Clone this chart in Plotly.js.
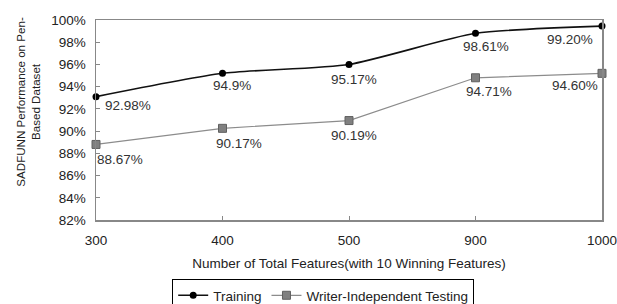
<!DOCTYPE html>
<html><head><meta charset="utf-8">
<script src="https://cdn.plot.ly/plotly-3.0.1.min.js"></script>
<style>html,body{margin:0;padding:0;background:#fff;}#chart{width:617px;height:304px;}</style>
</head><body><div id="chart"></div>
<script>
// Feature counts (category axis)
const categories = ['300', '400', '500', '900', '1000'];
// Point heights as drawn in the picture, and the printed data labels
const trainingValues = [93.1, 95.2, 96.0, 98.8, 99.45];
const trainingLabels = ['92.98%', '94.9%', '95.17%', '98.61%', '99.20%'];
const testingValues = [88.8, 90.25, 90.95, 94.8, 95.2];
const testingLabels = ['88.67%', '90.17%', '90.19%', '94.71%', '94.60%'];
const yTickVals = [82, 84, 86, 88, 90, 92, 94, 96, 98, 100];
const yTickText = ['82%', '84%', '86%', '88%', '90%', '92%', '94%', '96%', '98%', '100%'];
const yTitle = 'SADFUNN Performance on Pen-<br>Based Dataset';
const xTitle = 'Number of Total Features(with 10 Winning Features)';

const FONT = 'Liberation Sans, Arial, sans-serif';
const FS = 13.5;
// label offsets in pixels (style)
const trainDx = [32, 9, 5, 10, -32];
const trainDy = [-9, -12, -15, -13, -13];
const testDx = [24, 16, 5, 13, -27];
const testDy = [-15, -15, -15, -14, -12];

const annotations = [];
categories.forEach((c, i) => {
  // on a category axis, annotations are placed by category index
  annotations.push({x: i, y: trainingValues[i], xref: 'x', yref: 'y', text: trainingLabels[i], showarrow: false,
    xanchor: 'center', yanchor: 'middle', xshift: trainDx[i], yshift: trainDy[i],
    font: {family: FONT, size: FS, color: '#333'}});
  annotations.push({x: i, y: testingValues[i], xref: 'x', yref: 'y', text: testingLabels[i], showarrow: false,
    xanchor: 'center', yanchor: 'middle', xshift: testDx[i], yshift: testDy[i],
    font: {family: FONT, size: FS, color: '#333'}});
});
// y-axis title (placed as in the original, above the plot's vertical middle)
annotations.push({xref: 'paper', yref: 'paper', x: -0.135, y: 0.59, xanchor: 'center', yanchor: 'middle',
  text: yTitle, textangle: -90, showarrow: false, font: {family: FONT, size: 11.6, color: '#222'}});

const traces = [
  {
    x: categories, y: trainingValues, name: 'Training', type: 'scatter', mode: 'lines+markers',
    line: {color: '#111', width: 1.6, shape: 'spline', smoothing: 0.6},
    marker: {symbol: 'circle', size: 7, color: '#000'},
    cliponaxis: false
  },
  {
    x: categories, y: testingValues, name: 'Writer-Independent Testing', type: 'scatter', mode: 'lines+markers',
    line: {color: '#8c8c8c', width: 1.2},
    marker: {symbol: 'square', size: 8, color: '#808080', line: {color: '#606060', width: 1}},
    cliponaxis: false
  }
];

const layout = {
  width: 617, height: 304,
  margin: {l: 96, r: 15, t: 20, b: 84, autoexpand: false},
  paper_bgcolor: '#fff', plot_bgcolor: '#fff',
  font: {family: FONT, size: FS, color: '#222'},
  showlegend: true,
  legend: {
    orientation: 'h', x: 0.449, xanchor: 'center', y: -0.295, yanchor: 'top',
    bordercolor: '#000', borderwidth: 1, font: {size: FS, color: '#222'},
    itemwidth: 30, tracegroupgap: 0
  },
  annotations: annotations,
  xaxis: {
    type: 'category', range: [0, 4],
    showline: true, linecolor: '#888', linewidth: 1.5, mirror: true,
    showgrid: false, zeroline: false,
    ticks: 'inside', ticklen: 4, tickcolor: '#888',
    ticklabelstandoff: 7,
    tickfont: {size: FS, color: '#222'},
    title: {text: xTitle, font: {size: FS, color: '#222'}, standoff: 12}
  },
  yaxis: {
    range: [82, 100], tickvals: yTickVals, ticktext: yTickText,
    showline: true, linecolor: '#888', linewidth: 1.5, mirror: true,
    showgrid: false, zeroline: false,
    ticks: 'inside', ticklen: 4, tickcolor: '#888',
    ticklabelstandoff: 6,
    tickfont: {size: FS, color: '#222'}
  }
};

Plotly.newPlot('chart', traces, layout, {displayModeBar: false, staticPlot: true});
</script>
</body></html>
